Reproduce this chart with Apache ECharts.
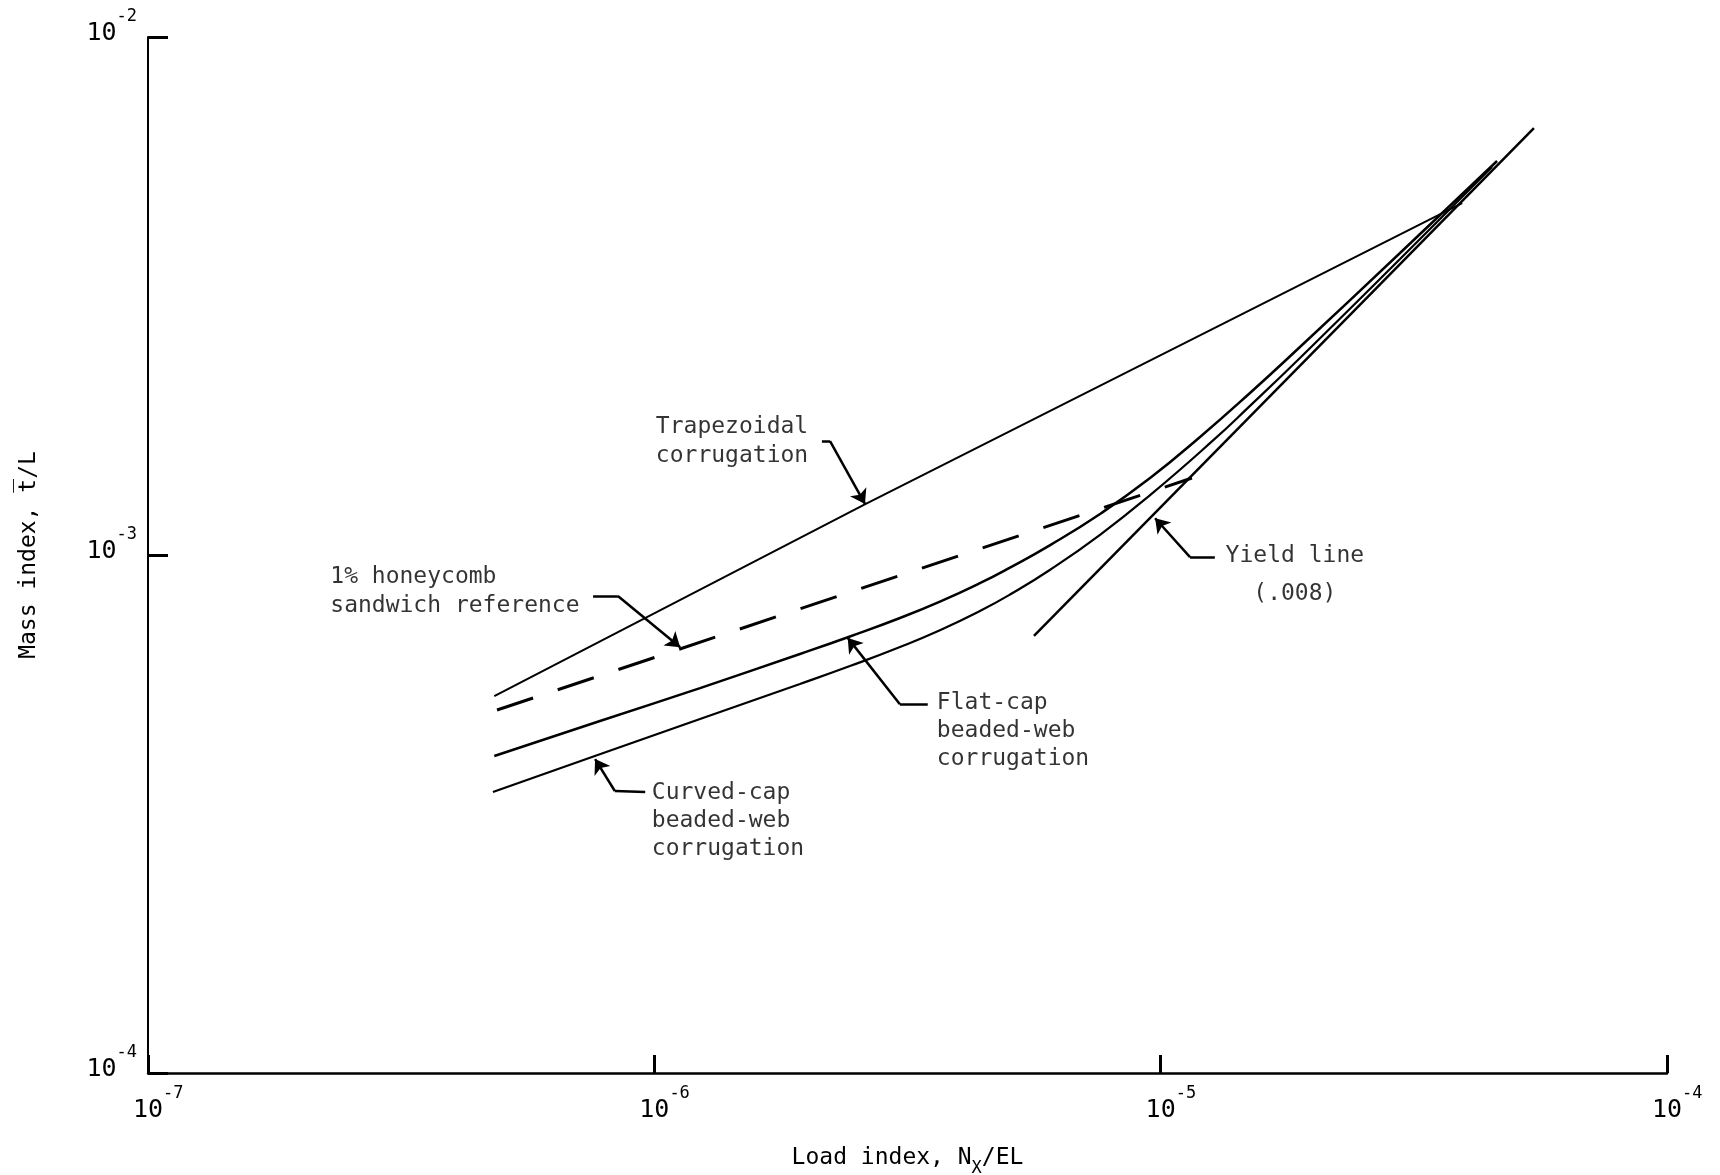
<!DOCTYPE html>
<html>
<head>
<meta charset="utf-8">
<script src="https://cdn.jsdelivr.net/npm/echarts@6/dist/echarts.min.js"></script>
<style>html,body{margin:0;padding:0;background:#fff}#c{width:1720px;height:1175px}</style>
</head>
<body>
<div id="c"></div>
<script>
// ---- data (log-log axes) ----
const xTicks = [1e-7, 1e-6, 1e-5, 1e-4];
const yTicks = [1e-4, 1e-3, 1e-2];

const trapX = [4.83e-7, 2.61e-6, 3.94e-5];
const trapY = [5.34e-4, 1.254e-3, 4.78e-3];

const honeyX = [4.89e-7, 1.153e-5];
const honeyY = [5.02e-4, 1.408e-3];

const flatX = [4.83e-7, 7.81e-7, 1.231e-6, 1.939e-6, 2.434e-6, 3.056e-6, 3.665e-6, 4.395e-6, 5.04e-6, 6.05e-6, 7.59e-6, 9.53e-6, 1.196e-5, 1.501e-5, 1.884e-5, 2.970e-5, 4.617e-5];
const flatY = [4.093e-4, 4.78e-4, 5.535e-4, 6.44e-4, 6.962e-4, 7.557e-4, 8.128e-4, 8.822e-4, 9.456e-4, 1.045e-3, 1.200e-3, 1.408e-3, 1.690e-3, 2.055e-3, 2.521e-3, 3.828e-3, 5.762e-3];

const curvX = [4.80e-7, 7.63e-7, 1.231e-6, 1.939e-6, 2.434e-6, 3.056e-6, 3.665e-6, 4.395e-6, 5.04e-6, 6.05e-6, 7.59e-6, 9.53e-6, 1.269e-5, 1.501e-5, 1.884e-5, 2.970e-5, 4.512e-5];
const curvY = [3.487e-4, 4.093e-4, 4.825e-4, 5.636e-4, 6.104e-4, 6.644e-4, 7.158e-4, 7.794e-4, 8.388e-4, 9.367e-4, 1.094e-3, 1.305e-3, 1.664e-3, 1.940e-3, 2.401e-3, 3.727e-3, 5.61e-3];

const yieldX = [5.62e-6, 5.46e-5];
const yieldY = [6.98e-4, 6.67e-3];

// annotation texts and anchors (given as decade exponents)
const noteTexts = ['Trapezoidal\ncorrugation', '1% honeycomb\nsandwich reference', 'Flat-cap\nbeaded-web\ncorrugation', 'Curved-cap\nbeaded-web\ncorrugation', 'Yield line\n(.008)'];
const noteAnchors = [[-5.997, -2.780], [-6.640, -3.070], [-5.442, -3.340], [-6.005, -3.514], [-4.735, -3.039]];
const noteAlign = ['left', 'left', 'left', 'left', 'center'];
const noteLineHeight = [29, 29, 28, 28, 38];
const leaderPaths = [
  [[-5.669, -2.780], [-5.653, -2.780], [-5.584, -2.9015]],
  [[-6.121, -3.079], [-6.072, -3.079], [-5.949, -3.178]],
  [[-5.460, -3.288], [-5.515, -3.288], [-5.618, -3.160]],
  [[-6.018, -3.4575], [-6.078, -3.4556], [-6.117, -3.394]],
  [[-4.893, -3.004], [-4.942, -3.004], [-5.011, -2.929]]
];

const FONT = 'DejaVu Sans Mono';
const zip = (a, b) => a.map((v, i) => [v, b[i]]);
const p10 = e => Math.pow(10, e);
const pt = c => [p10(c[0]), p10(c[1])];

const chart = echarts.init(document.getElementById('c'), null, {renderer: 'canvas'});

const supRich = {
  b: {fontSize: 25, fontFamily: FONT, color: '#000', lineHeight: 38, verticalAlign: 'bottom'},
  s: {fontSize: 17, fontFamily: FONT, color: '#000', verticalAlign: 'top'},
  p: {fontSize: 17, fontFamily: FONT, color: 'rgba(0,0,0,0)', verticalAlign: 'top'}
};
const expOf = v => Math.round(Math.log10(v));

const lineStyleBase = {color: '#000'};

chart.setOption({
  backgroundColor: '#fff',
  animation: false,
  grid: {left: 148, right: 53, top: 37, bottom: 102, containLabel: false, outerBoundsMode: 'none'},
  xAxis: {
    type: 'log', logBase: 10, min: xTicks[0], max: xTicks[xTicks.length - 1],
    axisLine: {show: true, lineStyle: {color: '#000', width: 2.5}},
    axisTick: {show: true, inside: true, length: 18, lineStyle: {color: '#000', width: 3}},
    splitLine: {show: false},
    minorTick: {show: false},
    axisLabel: {
      margin: 12,
      formatter: v => '{p|' + expOf(v) + '}{b|10}{s|' + expOf(v) + '}',
      rich: supRich
    },
    name: '{a|Load index, N}{sub|X}{a|/EL}',
    nameLocation: 'middle',
    nameGap: 74,
    nameTextStyle: {
      rich: {
        a: {fontSize: 23, fontFamily: FONT, color: '#000', verticalAlign: 'top'},
        sub: {fontSize: 17, fontFamily: FONT, color: '#000', lineHeight: 30, verticalAlign: 'bottom'}
      }
    }
  },
  yAxis: {
    type: 'log', logBase: 10, min: yTicks[0], max: yTicks[yTicks.length - 1],
    axisLine: {show: true, lineStyle: {color: '#000', width: 2}},
    axisTick: {show: true, inside: true, length: 20, lineStyle: {color: '#000', width: 3}},
    splitLine: {show: false},
    minorTick: {show: false},
    axisLabel: {
      margin: 11,
      padding: [0, 0, 20, 0],
      formatter: v => '{b|10}{s|' + expOf(v) + '}',
      rich: supRich
    },
    name: 'Mass index, t\u0305/L',
    nameLocation: 'middle',
    nameGap: 107,
    nameTextStyle: {fontSize: 23, fontFamily: FONT, color: '#000'}
  },
  series: [
    {type: 'line', name: 'Trapezoidal corrugation', data: zip(trapX, trapY), symbol: 'none',
     lineStyle: Object.assign({width: 2}, lineStyleBase)},
    {type: 'line', name: '1% honeycomb sandwich reference', data: zip(honeyX, honeyY), symbol: 'none',
     lineStyle: Object.assign({width: 3, type: [38, 26]}, lineStyleBase)},
    {type: 'line', name: 'Flat-cap beaded-web corrugation', data: zip(flatX, flatY), symbol: 'none', smooth: 0.5,
     lineStyle: Object.assign({width: 2.5}, lineStyleBase)},
    {type: 'line', name: 'Curved-cap beaded-web corrugation', data: zip(curvX, curvY), symbol: 'none', smooth: 0.5,
     lineStyle: Object.assign({width: 2.2}, lineStyleBase)},
    {type: 'line', name: 'Yield line (.008)', data: zip(yieldX, yieldY), symbol: 'none',
     lineStyle: Object.assign({width: 2.5}, lineStyleBase)},
    // leader hooks
    {type: 'lines', coordinateSystem: 'cartesian2d', symbol: 'none',
     lineStyle: {color: '#000', width: 2.5, opacity: 1},
     data: leaderPaths.map(p => ({coords: [pt(p[0]), pt(p[1])]}))},
    // leader arrows
    {type: 'lines', coordinateSystem: 'cartesian2d',
     symbol: ['none', 'arrow'], symbolSize: [1, 14],
     lineStyle: {color: '#000', width: 2.5, opacity: 1},
     data: leaderPaths.map(p => ({coords: [pt(p[1]), pt(p[2])]}))},
    {type: 'scatter', symbolSize: 0, silent: true,
     data: noteTexts.map((t, i) => ({
       value: pt(noteAnchors[i]),
       label: {
         show: true, position: 'inside', formatter: t,
         align: noteAlign[i], verticalAlign: 'middle',
         fontFamily: FONT, fontSize: 23, color: '#000', lineHeight: noteLineHeight[i]
       }
     }))}
  ]
});
</script>
</body>
</html>
